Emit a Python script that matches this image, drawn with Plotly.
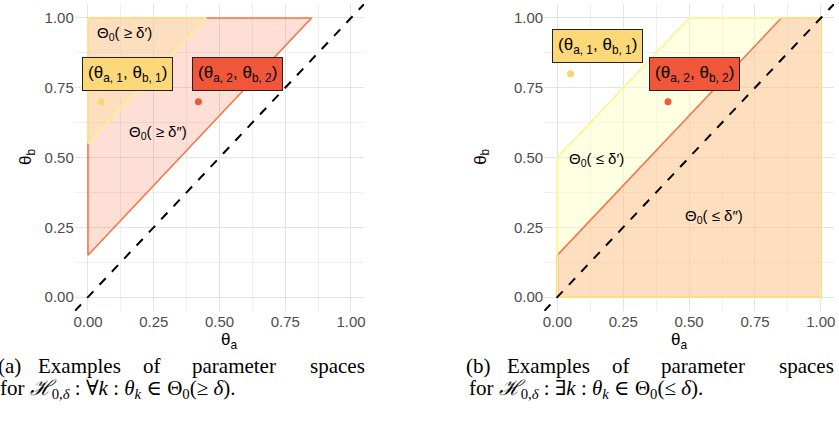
import plotly.graph_objects as go

W, H = 839, 448

# ---------------- data ----------------
diag = [-0.05, 1.05]

# panel (a)
a_orange_x = [0, 0, 0.85, 0]
a_orange_y = [0.15, 1, 1, 0.15]
a_yellow_x = [0, 0, 0.45, 0]
a_yellow_y = [0.55, 1, 1, 0.55]

# panel (b)
b_yellow_x = [0, 0, 0.5, 1, 1, 0]
b_yellow_y = [0, 0.5, 1, 1, 0, 0]
b_orange_x = [0, 0, 0.85, 1, 1, 0]
b_orange_y = [0, 0.15, 1, 1, 0, 0]

a_points_x = [0.05, 0.42]
a_points_y = [0.70, 0.70]
b_points_x = [0.05, 0.42]
b_points_y = [0.80, 0.70]

a_label_x = [0.152, 0.568]
a_label_y = [0.80, 0.80]
b_label_x = [0.153, 0.521]
b_label_y = [0.90, 0.80]
point_labels = ["(θ<sub>a, 1</sub>, θ<sub>b, 1</sub>)", "(θ<sub>a, 2</sub>, θ<sub>b, 2</sub>)"]

a_region_text = ["Θ<sub>0</sub>( ≥ δ′)", "Θ<sub>0</sub>( ≥ δ″)"]
a_region_x = [0.14, 0.267]
a_region_y = [0.946, 0.59]
b_region_text = ["Θ<sub>0</sub>( ≤ δ′)", "Θ<sub>0</sub>( ≤ δ″)"]
b_region_x = [0.147, 0.595]
b_region_y = [0.493, 0.29]

tick_vals = [0, 0.25, 0.5, 0.75, 1.0]
tick_text = ["0.00", "0.25", "0.50", "0.75", "1.00"]

caption_words_a = ["(a)", "Examples", "of", "parameter", "spaces"]
caption_words_b = ["(b)", "Examples", "of", "parameter", "spaces"]
caption_line2_a = "for <i>ℋ</i><sub>0,<i>δ</i></sub> : ∀<i>k</i> : <i>θ<sub>k</sub></i> ∈ Θ<sub>0</sub>(≥ <i>δ</i>)."
caption_line2_b = "for <i>ℋ</i><sub>0,<i>δ</i></sub> : ∃<i>k</i> : <i>θ<sub>k</sub></i> ∈ Θ<sub>0</sub>(≤ <i>δ</i>)."
# word centres (px from caption start) for the justified first line
caption_word_centres = [12, 82, 154, 237, 340]

# ---------------- styles ----------------
ORANGE_LINE = "#f4774b"
ORANGE_FILL = "rgba(244,109,67,0.22)"
YELLOW_LINE = "#fff39a"
YELLOW_FILL = "rgba(255,255,191,0.45)"
PT_COLORS = ["#fcd572", "#f0583a"]
LBL_COLORS = ["#fdd878", "#f0573a"]
SANS = "Liberation Sans, Arial"
SERIF = "Liberation Serif, DejaVu Serif, serif"

fig = go.Figure()


def add_panel(xa, ya, yel_x, yel_y, ora_x, ora_y, px, py, lx, ly, rtxt, rx, ry):
    fig.add_trace(go.Scatter(x=yel_x, y=yel_y, mode="lines", fill="toself",
                             fillcolor=YELLOW_FILL, line=dict(color=YELLOW_LINE, width=1.6),
                             xaxis=xa, yaxis=ya, hoverinfo="skip"))
    fig.add_trace(go.Scatter(x=ora_x, y=ora_y, mode="lines", fill="toself",
                             fillcolor=ORANGE_FILL, line=dict(color=ORANGE_LINE, width=1.6),
                             xaxis=xa, yaxis=ya, hoverinfo="skip"))
    fig.add_trace(go.Scatter(x=yel_x, y=yel_y, mode="lines",
                             line=dict(color=YELLOW_LINE, width=1.6),
                             xaxis=xa, yaxis=ya, hoverinfo="skip"))
    fig.add_trace(go.Scatter(x=diag, y=diag, mode="lines",
                             line=dict(color="black", width=2, dash="dash"),
                             xaxis=xa, yaxis=ya, hoverinfo="skip"))
    fig.add_trace(go.Scatter(x=px, y=py, mode="markers",
                             marker=dict(color=PT_COLORS, size=7),
                             xaxis=xa, yaxis=ya, hoverinfo="skip"))
    xr = "x" if xa == "x" else "x2"
    yr = "y" if ya == "y" else "y2"
    for i in range(2):
        fig.add_annotation(x=lx[i], y=ly[i], xref=xr, yref=yr, text=point_labels[i],
                           showarrow=False, bgcolor=LBL_COLORS[i], bordercolor="#222222",
                           borderwidth=1, borderpad=5,
                           font=dict(family=SANS, size=17, color="black"))
        fig.add_annotation(x=rx[i], y=ry[i], xref=xr, yref=yr, text=rtxt[i],
                           showarrow=False,
                           font=dict(family=SANS, size=15, color="black"))


add_panel("x", "y", a_yellow_x, a_yellow_y, a_orange_x, a_orange_y,
          a_points_x, a_points_y, a_label_x, a_label_y, a_region_text, a_region_x, a_region_y)
add_panel("x2", "y2", b_yellow_x, b_yellow_y, b_orange_x, b_orange_y,
          b_points_x, b_points_y, b_label_x, b_label_y, b_region_text, b_region_x, b_region_y)

axis_common = dict(range=[-0.05, 1.05], tickvals=tick_vals, ticktext=tick_text,
                   showgrid=True, gridcolor="#e4e4e4", gridwidth=1.3,
                   zeroline=False, showline=False, ticks="",
                   tickfont=dict(family=SANS, size=15, color="#4d4d4d"),
                   minor=dict(tickvals=[0.125, 0.375, 0.625, 0.875], showgrid=True,
                              gridcolor="#efefef", gridwidth=0.8),
                   fixedrange=True)

ydom = [1 - 311 / H, 1 - 4 / H]
fig.update_layout(
    width=W, height=H, margin=dict(l=0, r=0, t=0, b=0),
    paper_bgcolor="white", plot_bgcolor="white", showlegend=False,
    xaxis=dict(domain=[74 / W, 364 / W], anchor="y", **axis_common),
    yaxis=dict(domain=ydom, anchor="x", **axis_common),
    xaxis2=dict(domain=[544.5 / W, 835 / W], anchor="y2", **axis_common),
    yaxis2=dict(domain=ydom, anchor="x2", **axis_common),
)

# axis titles
for xc, yc in [((74 + 364) / 2, 13), ((544.5 + 835) / 2, 482)]:
    fig.add_annotation(x=xc / W, y=1 - 354 / H, xref="paper", yref="paper",
                       text="θ<sub>a</sub>", showarrow=False,
                       font=dict(family=SANS, size=17, color="black"))
    fig.add_annotation(x=yc / W, y=1 - 157 / H, xref="paper", yref="paper",
                       text="θ<sub>b</sub>", showarrow=False, textangle=-90,
                       font=dict(family=SANS, size=17, color="black"))

# captions
for words, line2, x0 in [(caption_words_a, caption_line2_a, -3),
                         (caption_words_b, caption_line2_b, 467)]:
    for w, c in zip(words, caption_word_centres):
        fig.add_annotation(x=(x0 + c) / W, y=1 - 366 / H, xref="paper", yref="paper",
                           xanchor="center", yanchor="middle", text=w, showarrow=False,
                           font=dict(family=SERIF, size=21, color="black"))
    fig.add_annotation(x=x0 / W, y=1 - 389 / H, xref="paper", yref="paper",
                       xanchor="left", yanchor="middle", text=line2, showarrow=False,
                       font=dict(family=SERIF, size=21, color="black"))

fig.write_html("out.html", config={"displayModeBar": False},
               post_script="document.body.style.margin='0px';")
